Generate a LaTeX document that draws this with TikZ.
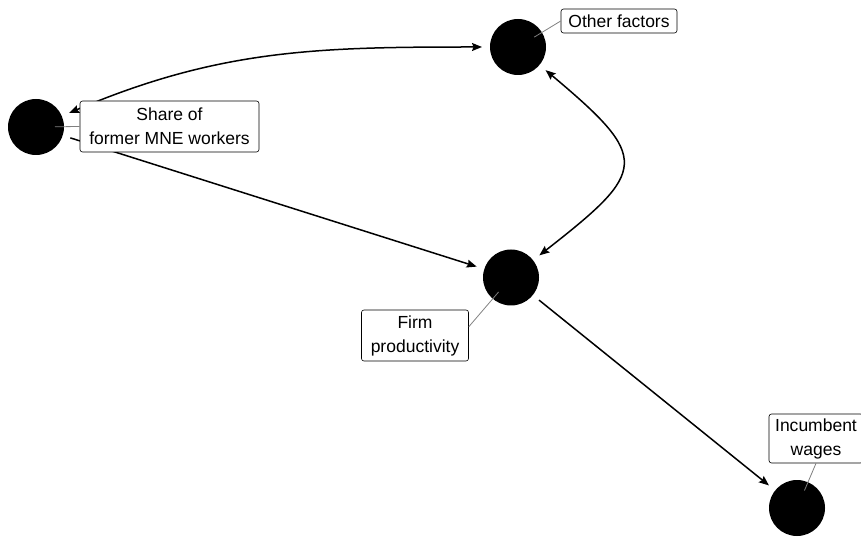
\documentclass[tikz,border=0pt]{standalone}
\usepackage{fontspec}
\setmainfont{Liberation Sans}
\usetikzlibrary{arrows.meta,calc}
\begin{document}
\begin{tikzpicture}[x=1pt,y=1pt,
  pt/.style={circle,fill=black,minimum size=56pt,inner sep=0pt,outer sep=8pt},
  lab/.style={draw=black,line width=0.6pt,rounded corners=2.5pt,fill=white,align=center,inner sep=0pt,font=\fontsize{17.5}{24}\selectfont},
  edge/.style={line width=1.5pt,-{Stealth[length=10pt,width=8pt,inset=1.5pt]}},
  bedge/.style={line width=1.5pt,{Stealth[length=10pt,width=8pt,inset=1.5pt]}-{Stealth[length=10pt,width=8pt,inset=1.5pt]}},
  lead/.style={draw=black!50,line width=0.8pt,shorten <=19pt}]
\useasboundingbox (0,0) rectangle (861,538);
% points
\node[pt] (sh) at (36,411) {};
\node[pt] (of) at (518,491) {};
\node[pt] (fp) at (511,260.5) {};
\node[pt] (iw) at (797,30) {};
% edges
\draw[bedge] (sh) to[out=23,in=180] (of);
\draw[bedge] (of) to[out=-40,in=38,looseness=1.9] (fp);
\draw[edge] (sh) -- (fp);
\draw[edge] (fp) -- (iw);
% labels
\node[lab,minimum width=179pt,minimum height=51pt] (shlab) at (169.5,411.5) {Share of\\former MNE workers};
\node[lab,minimum width=116pt,minimum height=24pt] (oflab) at (619,517) {Other factors};
\node[lab,minimum width=107pt,minimum height=51pt] (fplab) at (415,202.5) {Firm\\productivity};
\node[lab,minimum width=94pt,minimum height=49pt] (iwlab) at (816,99.5) {Incumbent\\wages};
% leader lines
\draw[lead] (sh.center) -- (shlab.west);
\draw[lead] (of.center) -- (oflab.west);
\draw[lead] (fp.center) -- ($(fplab.north east)!0.33!(fplab.south east)$);
\draw[lead] (iw.center) -- (iwlab.south);
\end{tikzpicture}
\end{document}
